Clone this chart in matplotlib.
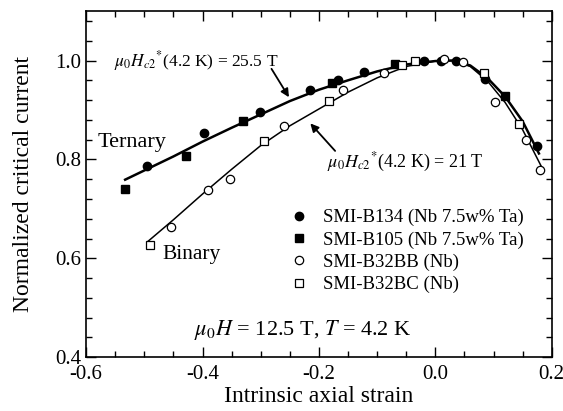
import matplotlib
matplotlib.use("Agg")
import matplotlib.pyplot as plt
from matplotlib.ticker import MultipleLocator

plt.rcParams["font.family"] = ["Liberation Serif", "DejaVu Serif"]
plt.rcParams["mathtext.fontset"] = "stix"
plt.rcParams["axes.unicode_minus"] = False

# measured points
b134_x = [-0.495, -0.397, -0.302, -0.216, -0.167, -0.122, -0.020, 0.009, 0.036, 0.086, 0.174]
b134_y = [0.786, 0.854, 0.896, 0.940, 0.960, 0.977, 0.999, 1.000, 0.999, 0.962, 0.827]

b105_x = [-0.533, -0.428, -0.331, -0.178, -0.070, 0.120]
b105_y = [0.740, 0.806, 0.877, 0.955, 0.992, 0.928]

b32bb_x = [-0.455, -0.390, -0.353, -0.260, -0.158, -0.088, 0.015, 0.048, 0.103, 0.155, 0.180]
b32bb_y = [0.664, 0.738, 0.761, 0.867, 0.940, 0.975, 1.003, 0.997, 0.916, 0.840, 0.779]

b32bc_x = [-0.491, -0.294, -0.182, -0.058, -0.035, 0.083, 0.144]
b32bc_y = [0.627, 0.837, 0.918, 0.990, 0.999, 0.975, 0.871]

# fitted curves
tern_x = [-0.533, -0.45, -0.40, -0.35, -0.30, -0.25, -0.20, -0.15, -0.10, -0.05,
          0.00, 0.03, 0.06, 0.09, 0.12, 0.15, 0.178]
tern_y = [0.759, 0.806, 0.836, 0.864, 0.891, 0.918, 0.941, 0.960, 0.978, 0.992,
          0.999, 1.000, 0.990, 0.964, 0.927, 0.877, 0.812]

bin_x = [-0.494, -0.45, -0.40, -0.35, -0.30, -0.25, -0.20, -0.15, -0.10, -0.05,
         0.00, 0.03, 0.06, 0.09, 0.12, 0.15, 0.182]
bin_y = [0.634, 0.678, 0.730, 0.780, 0.828, 0.868, 0.902, 0.936, 0.965, 0.988,
         0.999, 1.000, 0.988, 0.958, 0.915, 0.860, 0.786]

labels = ["SMI-B134 (Nb 7.5w% Ta)", "SMI-B105 (Nb 7.5w% Ta)",
          "SMI-B32BB (Nb)", "SMI-B32BC (Nb)"]

fig = plt.figure(figsize=(5.63, 4.11), dpi=100)
ax = fig.add_axes([0.153, 0.131, 0.827, 0.842])

ax.plot(tern_x, tern_y, color="black", lw=1.8)
ax.plot(bin_x, bin_y, color="black", lw=1.1)

ax.plot(b134_x, b134_y, "o", ms=6, color="black", label=labels[0])
ax.plot(b105_x, b105_y, "s", ms=5.5, color="black", label=labels[1])
ax.plot(b32bb_x, b32bb_y, "o", ms=6, mfc="white", mec="black", mew=0.9, label=labels[2])
ax.plot(b32bc_x, b32bc_y, "s", ms=5.5, mfc="white", mec="black", mew=0.9, label=labels[3])

ax.set_xlim(-0.6, 0.2)
ax.set_ylim(0.4, 1.1)
ax.xaxis.set_major_locator(MultipleLocator(0.2))
ax.xaxis.set_minor_locator(MultipleLocator(0.05))
ax.yaxis.set_major_locator(MultipleLocator(0.2))
ax.yaxis.set_minor_locator(MultipleLocator(0.04))
ax.xaxis.set_major_formatter(lambda v, p: f"{v:.1f}")
ax.yaxis.set_major_formatter(lambda v, p: f"{v:.1f}")
ax.tick_params(which="both", direction="in", top=True, right=True, labelsize=15, width=1.0)
ax.tick_params(which="major", length=7)
ax.tick_params(which="minor", length=4)
ax.tick_params(axis="x", pad=6)
for s in ax.spines.values():
    s.set_linewidth(1.2)

ax.set_xlabel("Intrinsic axial strain", fontsize=17, labelpad=1)
ax.set_ylabel("Normalized critical current", fontsize=17, labelpad=15)

ax.text(-0.552, 1.0, r"$\mu_0H_{c2}{}^{*}$(4.2 K) = 25.5 T", fontsize=12.5, va="center")
ax.annotate("", xy=(-0.249, 0.921), xytext=(-0.284, 0.988),
            arrowprops=dict(arrowstyle="-|>", color="black", lw=1.3, mutation_scale=12))
ax.text(-0.186, 0.794, r"$\mu_0H_{c2}{}^{*}$(4.2 K) = 21 T", fontsize=13, va="center")
ax.annotate("", xy=(-0.218, 0.877), xytext=(-0.169, 0.813),
            arrowprops=dict(arrowstyle="-|>", color="black", lw=1.3, mutation_scale=12))

ax.text(-0.580, 0.834, "Ternary", fontsize=16, va="center")
ax.text(-0.469, 0.607, "Binary", fontsize=15.5, va="center")
ax.text(-0.228, 0.455, r"$\mu_0H$ = 12.5 T, $T$ = 4.2 K", fontsize=16, ha="center", va="center")

ax.legend(loc="upper left", bbox_to_anchor=(0.425, 0.45), frameon=False, fontsize=13.5,
          handlelength=0.8, handletextpad=0.9, labelspacing=0.27, borderaxespad=0)

fig.savefig("out.png", dpi=100)
